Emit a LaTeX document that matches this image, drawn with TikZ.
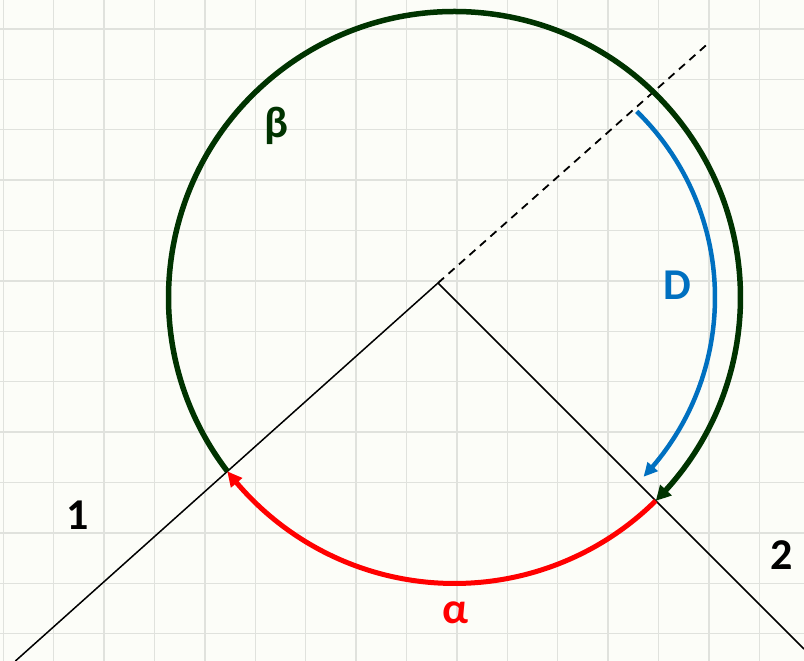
\documentclass[tikz,border=0pt]{standalone}
\usepackage{fontspec}
\setmainfont{Carlito}
\usetikzlibrary{arrows.meta,bending,calc}
\definecolor{bg}{RGB}{252,253,248}
\definecolor{gridc}{RGB}{224,226,221}
\definecolor{dkgreen}{RGB}{0,51,0}
\definecolor{myblue}{RGB}{0,112,192}
\definecolor{myred}{RGB}{255,0,0}
\tikzset{
  gridline/.style={draw=gridc, line width=1.4pt},
  thinline/.style={draw=black, line width=1.5pt},
  dashline/.style={draw=black, line width=1.8pt, dash pattern=on 8pt off 6pt},
  greenarc/.style={draw=dkgreen, line width=5.5pt, -{Triangle[length=15pt,width=15pt,bend]}},
  redarc/.style={draw=myred, line width=5pt, -{Triangle[length=15pt,width=14pt,bend]}},
  bluearc/.style={draw=myblue, line width=4.5pt, -{Triangle[length=14pt,width=13pt,bend]}},
  lbl/.style={font=\fontsize{44}{50}\selectfont\bfseries, inner sep=0pt, anchor=base}
}
\begin{document}
\begin{tikzpicture}[x=1pt,y=1pt]
  \fill[bg] (0,0) rectangle (804,661);
  \useasboundingbox (0,0) rectangle (804,661);
  \begin{scope}
    \clip (0,0) rectangle (804,661);
    \foreach \i in {0,...,15} \draw[gridline] ({3.3+50.4*\i},0) -- ++(0,661);
    \foreach \j in {0,...,13} \draw[gridline] (0,{632.1-50.4*\j}) -- ++(804,0);
  \end{scope}
  % geometry
  \coordinate (C) at (454.5,363.5);
  \coordinate (V) at (438,378);
  \coordinate (E1) at (15.4,0);
  \coordinate (E2) at (804,12);
  \coordinate (E3) at (708.3,617.7);
  \draw[thinline] (V) -- (E1);
  \draw[thinline] (V) -- (E2);
  \draw[dashline] (V) -- (E3);
  % arcs
  \draw[greenarc] ($(C)+(217.4:286)$) arc[start angle=217.4, end angle=-45.3, radius=286];
  \draw[redarc] ($(C)+(-45.3:286)$) arc[start angle=-45.3, end angle=-142.6, radius=286];
  \draw[bluearc] ($(C)+(45.6:260.5)$) arc[start angle=45.6, end angle=-43.5, radius=260.5];
  % labels
  \node[lbl, text=dkgreen] (beta) at (276,523) {β};
  \node[lbl, text=myred] (alpha) at (455,37.7) {α};
  \node[lbl, text=myblue] (D) at (677.5,361.7) {D};
  \node[lbl, text=black] (one) at (77.7,131.7) {1};
  \node[lbl, text=black] (two) at (781.7,91) {2};
\end{tikzpicture}
\end{document}
